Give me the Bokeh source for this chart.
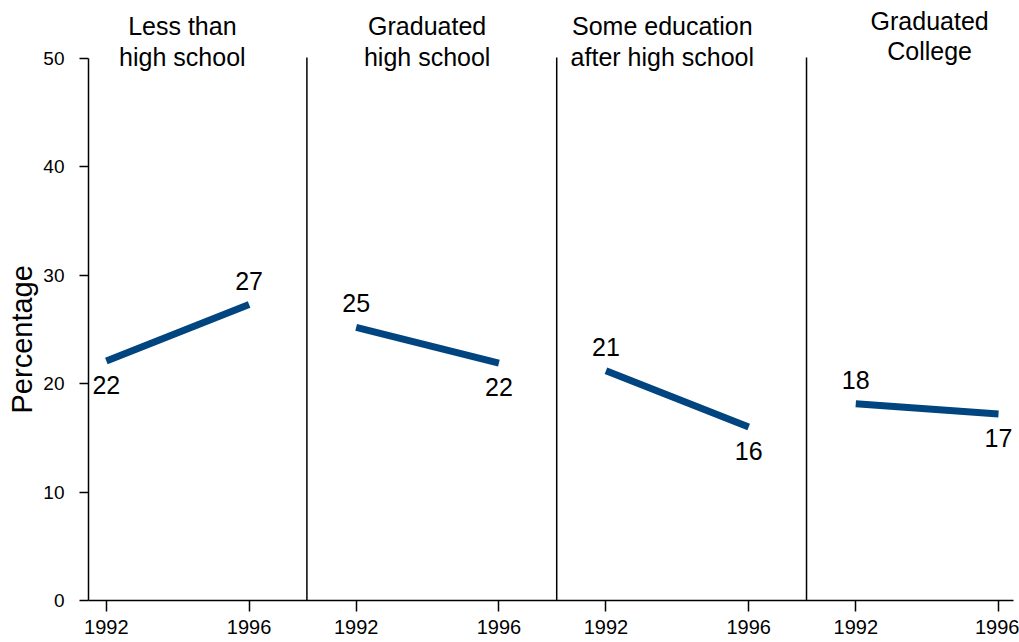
from bokeh.plotting import figure
from bokeh.models import Range1d, FixedTicker, Title
from bokeh.embed import file_html
from bokeh.resources import INLINE
from bokeh.core.properties import value

# ---- data ----
categories = ["Less than\nhigh school", "Graduated\nhigh school",
              "Some education\nafter high school", "Graduated\nCollege"]
years = [1992, 1996]
pct_1992 = [22.1, 25.2, 21.2, 18.15]
pct_1996 = [27.3, 21.9, 16.0, 17.2]
y_ticks = [0, 10, 20, 30, 40, 50]
y_label = "Percentage"

# ---- layout constants ----
PANEL = 7.0            # x units per panel
SEP = 5.62             # separator position inside a panel
Y_MAX = 50
TITLE_DX = [2.13, 1.99, 1.58, 2.07]
TITLE_Y = [(53.04, 50.18), (53.04, 50.18), (53.04, 50.18), (53.5, 50.65)]
FONT = "Liberation Sans"
BLUE = "#00457f"

p = figure(width=1019, height=642, output_backend="svg", toolbar_location=None,
           x_range=Range1d(-0.5, 25.42), y_range=Range1d(0, 55.35),
           min_border_left=87, min_border_right=6, min_border_top=0,
           min_border_bottom=42)
p.outline_line_color = None
p.xgrid.grid_line_color = None
p.ygrid.grid_line_color = None

# axes
x_ticks = []
overrides = {}
for i in range(len(categories)):
    for yr in years:
        t = i * PANEL + (yr - years[0])
        x_ticks.append(t)
        overrides[t] = str(yr)
p.xaxis.ticker = FixedTicker(ticks=x_ticks)
p.xaxis.major_label_overrides = overrides
p.yaxis.ticker = FixedTicker(ticks=y_ticks)
p.yaxis.bounds = (0, Y_MAX)
for ax in (p.xaxis[0], p.yaxis[0]):
    ax.minor_tick_line_color = None
    ax.major_tick_in = 0
    ax.axis_line_color = "black"
    ax.axis_line_width = 1.5
    ax.major_tick_line_width = 1.5
    ax.major_tick_line_color = "black"
    ax.major_label_text_font = FONT
    ax.major_label_text_color = "black"
p.xaxis.major_tick_out = 11
p.yaxis.major_tick_out = 9
p.xaxis.major_label_text_font_size = "20px"
p.xaxis.major_label_standoff = 8
p.yaxis.major_label_text_font_size = "19px"
p.yaxis.major_label_standoff = 15

p.add_layout(Title(text=y_label, align="left", offset=187, standoff=6,
                   text_font=FONT, text_font_size="29px", text_font_style="normal",
                   text_color="black"), "left")

# separators
sep_x = [i * PANEL + SEP for i in range(len(categories) - 1)]
p.segment(x0=sep_x, y0=[0] * len(sep_x), x1=sep_x, y1=[Y_MAX + 0.1] * len(sep_x),
          line_color="black", line_width=1.5)

# lines
xs, ys = [], []
above_x, above_y, above_t = [], [], []
below_x, below_y, below_t = [], [], []
for i in range(len(categories)):
    x0 = i * PANEL + (years[0] - years[0])
    x1 = i * PANEL + (years[1] - years[0])
    a, b = pct_1992[i], pct_1996[i]
    xs.append([x0, x1])
    ys.append([a, b])
    for xv, v, other in ((x0, a, b), (x1, b, a)):
        if v >= other:
            above_x.append(xv); above_y.append(v); above_t.append(str(round(v)))
        else:
            below_x.append(xv); below_y.append(v); below_t.append(str(round(v)))

p.multi_line(xs=xs, ys=ys, line_color=BLUE, line_width=7, line_cap="butt")

p.text(x=above_x, y=above_y, text=above_t, y_offset=-24,
       text_font=value(FONT), text_font_size="25px", text_color="black",
       text_align="center", text_baseline="middle")
p.text(x=below_x, y=below_y, text=below_t, y_offset=24,
       text_font=value(FONT), text_font_size="25px", text_color="black",
       text_align="center", text_baseline="middle")

# panel titles
tx, ty, tt = [], [], []
for i, cat in enumerate(categories):
    for j, line in enumerate(cat.split("\n")):
        tx.append(i * PANEL + TITLE_DX[i])
        ty.append(TITLE_Y[i][j])
        tt.append(line)
p.text(x=tx, y=ty, text=tt, text_font=value(FONT), text_font_size="25px",
       text_color="black", text_align="center", text_baseline="middle")

open("out.html", "w").write(file_html(p, INLINE))
